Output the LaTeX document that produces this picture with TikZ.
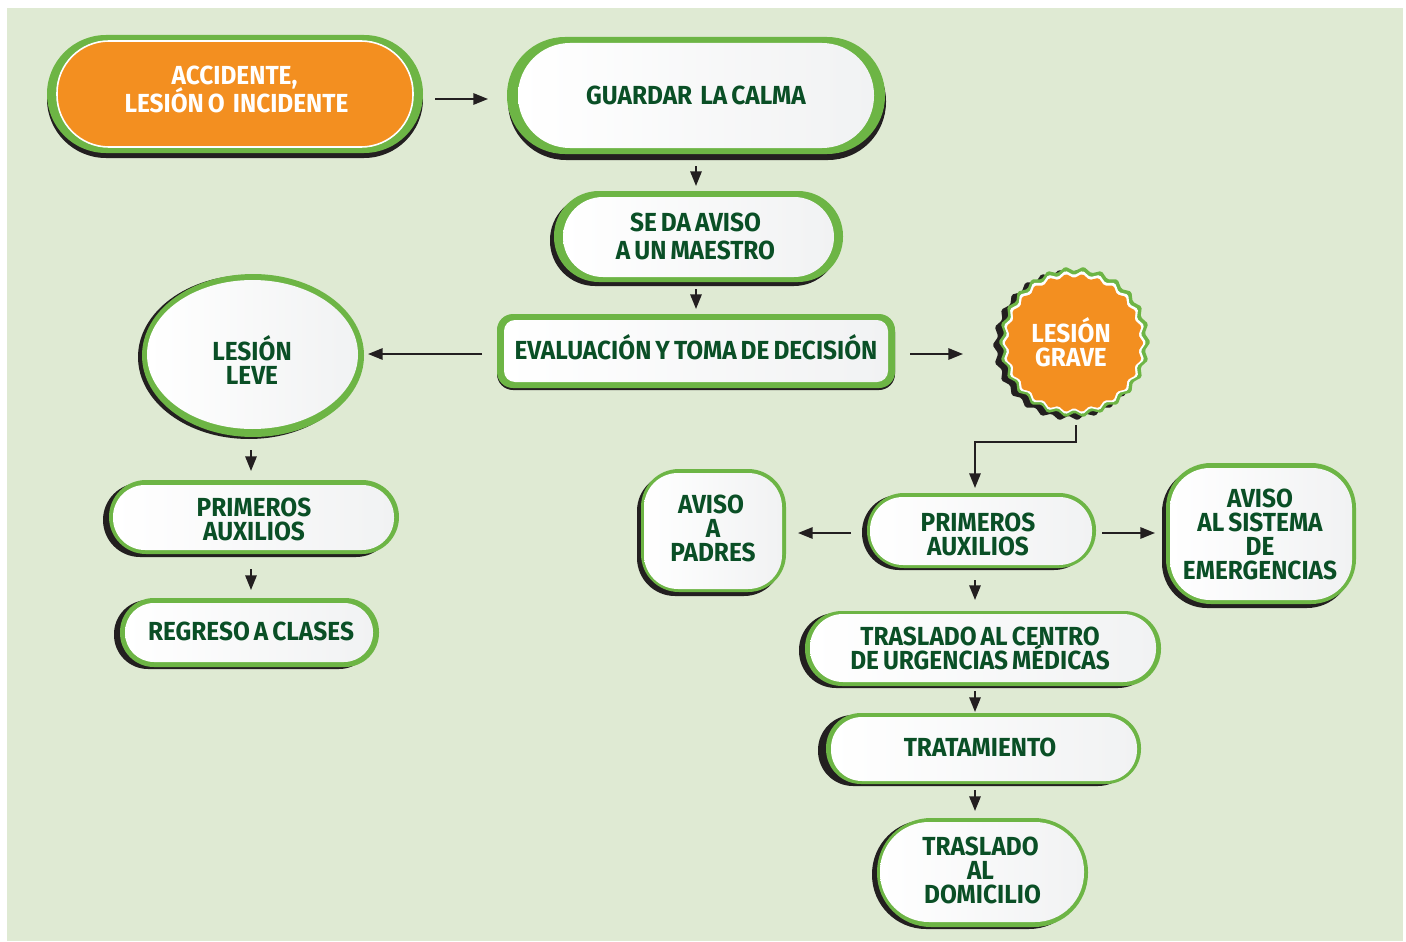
\documentclass[tikz,border=0pt]{standalone}
\usepackage{fontspec}
\setmainfont[FakeStretch=0.935,WordSpace=0.7,BoldFont={Fira Sans Bold}]{Fira Sans}
\usetikzlibrary{arrows.meta,shapes.geometric,calc}
\AtBeginDocument{\setlength{\lineskiplimit}{-50pt}}
\definecolor{bgc}{HTML}{DFEAD3}
\definecolor{grn}{HTML}{6DB545}
\definecolor{orng}{HTML}{F38F20}
\definecolor{inkc}{HTML}{231F20}
\definecolor{txtc}{HTML}{0A4F26}
\definecolor{shdr}{HTML}{F1F2F3}
\tikzset{
  arr/.style={draw=inkc,line width=1.5pt,-{Triangle[length=11pt,width=8.5pt]}},
  whitebox/.style={shape=rectangle,inner sep=0pt,outer sep=0pt,left color=white,right color=shdr},
  orangebox/.style={shape=rectangle,inner sep=0pt,outer sep=0pt,fill=orng,draw=white,line width=1.2pt},
  lbl/.style={inner sep=0pt,outer sep=0pt,align=center,text=txtc,font=\fontsize{19.6}{18}\selectfont\bfseries},
  lblwide/.style={lbl,font=\fontsize{19.6}{21}\selectfont\bfseries},
  onorange/.style={text=white},
  burstpt/.style={shape=star,star points=26,star point ratio=1.075,shape border rotate=6.923,inner sep=0pt,outer sep=0pt,rounded corners=1.2pt},
}
\newcommand{\frameback}[7]{%
  \pgfmathsetmacro{\rrv}{#5*0.75}%
  \fill[inkc,rounded corners=\rrv pt,shift={(#6,#7)}] (#1,#2) rectangle (#3,#4);
  \fill[grn,rounded corners=\rrv pt] (#1,#2) rectangle (#3,#4);
}
\newcommand{\innerbox}[7]{%
  \pgfmathsetmacro{\rrv}{#6*0.75}%
  \pgfmathsetmacro{\wwv}{(#4-#2)*0.75}%
  \pgfmathsetmacro{\hhv}{(#5-#3)*0.75}%
  \node[#7,rounded corners=\rrv pt,minimum width=\wwv pt,minimum height=\hhv pt] (#1) at ({(#2+#4)/2},{(#3+#5)/2}) {};
}
\begin{document}
\begin{tikzpicture}[x=0.75pt,y=-0.75pt]
\useasboundingbox (0,0) rectangle (1406,942);
\fill[white] (0,0) rectangle (1406,942);
\fill[bgc] (7,8) rectangle (1403,941);

% top row
\frameback{47}{35}{423}{153}{59}{0}{5}
\innerbox{acc}{57}{41}{413}{147}{52}{orangebox}
\node[lblwide,onorange] (acctxt) at (236.5,89) {ACCIDENTE,\kern3pt\\LESIÓN O\ \ INCIDENTE};

\frameback{507}{37}{885}{154}{58}{1}{6}
\innerbox{calma}{518}{43}{874}{148}{52}{whitebox}
\node[lbl] (calmatxt) at (696,95) {GUARDAR\ \ LA CALMA};

\frameback{554}{191}{843}{282}{45}{-4}{4}
\innerbox{aviso}{563}{197}{834}{277}{40}{whitebox}
\node[lblwide] (avisotxt) at (695.5,236) {SE DA AVISO\\A UN MAESTRO};

\frameback{497}{314}{895}{388}{16}{0}{2}
\innerbox{eval}{504}{320}{888}{382}{11}{whitebox}
\node[lbl] (evaltxt) at (696,347) {EVALUACIÓN Y TOMA DE DECISIÓN};

% left column
\fill[inkc] (249,357) ellipse [x radius=111,y radius=82];
\fill[grn] (253,355.5) ellipse [x radius=111,y radius=81.5];
\node[whitebox,shape=ellipse,minimum width=158.25pt,minimum height=111.75pt] (leve) at (252.5,354.5) {};
\node[lbl] (levetxt) at (252,360) {LESIÓN\\LEVE};

\frameback{109}{480}{399}{554}{37}{-6}{3}
\innerbox{primL}{113}{485}{394}{550}{32}{whitebox}
\node[lbl] (primLtxt) at (254,519.5) {PRIMEROS\\AUXILIOS};

\frameback{120}{598}{379}{667}{34}{-6}{2}
\innerbox{regreso}{125}{603}{373}{662}{29}{whitebox}
\node[lbl] (regresotxt) at (251,631) {REGRESO A CLASES};

% burst
\node[burstpt,fill=inkc,minimum size=114pt] (burstS) at (1068.5,345) {};
\node[burstpt,fill=grn,minimum size=114pt] (burstG) at (1074.5,342) {};
\node[burstpt,fill=white,minimum size=108.5pt] (burstW) at (1074,342.5) {};
\node[burstpt,fill=orng,minimum size=104.5pt] (burst) at (1074,343) {};
\node[lbl,onorange] (bursttxt) at (1071,342) {LESIÓN\\GRAVE};

% right column
\frameback{641}{469}{786}{592}{38}{-4}{4}
\innerbox{padres}{644}{473}{782}{589}{34}{whitebox}
\node[lbl] (padrestxt) at (713,528.5) {AVISO\kern3pt\\A\\PADRES};

\frameback{867}{493}{1096}{568}{37}{-5}{2}
\innerbox{primR}{870}{497}{1092}{565}{33}{whitebox}
\node[lbl] (primRtxt) at (978,534) {PRIMEROS\\AUXILIOS};

\frameback{1166}{463}{1356}{604}{45}{-4}{4}
\innerbox{sistema}{1170}{468}{1352}{600}{40}{whitebox}
\node[lbl] (sistematxt) at (1260,534) {AVISO\\AL SISTEMA\\DE\\EMERGENCIAS};

\frameback{805}{611}{1161}{686}{37}{-6}{2}
\innerbox{centro}{810}{614}{1156}{682}{33}{whitebox}
\node[lbl] (centrotxt) at (980,648) {TRASLADO AL CENTRO\\DE URGENCIAS MÉDICAS};

\frameback{826}{713}{1141}{784}{35}{-8}{2}
\innerbox{trat}{831}{717}{1137}{781}{31}{whitebox}
\node[lbl] (trattxt) at (980,747) {TRATAMIENTO};

\frameback{877}{818}{1088}{927}{54}{-5}{2}
\innerbox{dom}{880}{822}{1084}{922}{49}{whitebox}
\node[lbl] (domtxt) at (980.5,870) {TRASLADO\\AL\\\kern3pt DOMICILIO};

% connectors
\draw[arr] ([shift={(22,5)}]acc.east) -- ([shift={(-30,3.5)}]calma.west);
\draw[arr] ([shift={(0,18)}]calma.south) -- ([shift={(-2.5,-11)}]aviso.north);
\draw[arr] ([shift={(-2.5,12)}]aviso.south) -- ([shift={(0,-11)}]eval.north);
\draw[arr] ([shift={(-22,3)}]eval.west) -- ([shift={(10,-.5)}]leve.east);
\draw[arr] ([shift={(22,3)}]eval.east) -- ([shift={(-111,11)}]burst.center);
\draw[arr] ([shift={(-1.5,21)}]leve.south) -- ([shift={(-2.5,-14)}]primL.north);
\draw[arr] ([shift={(-2.5,19)}]primL.south) -- ([shift={(2,-13)}]regreso.north);
\draw[arr] ([shift={(2,82)}]burst.center) -- ++(0,17) -| ([shift={(-6,-9)}]primR.north);
\draw[arr] ([shift={(-19,2)}]primR.west) -- ([shift={(16,2)}]padres.east);
\draw[arr] ([shift={(10,2)}]primR.east) -- ([shift={(-15,-1)}]sistema.west);
\draw[arr] ([shift={(-6,15)}]primR.south) -- ([shift={(-8,-14)}]centro.north);
\draw[arr] ([shift={(-8,9)}]centro.south) -- ([shift={(-9,-5)}]trat.north);
\draw[arr] ([shift={(-9,9)}]trat.south) -- ([shift={(-7,-11)}]dom.north);
\end{tikzpicture}
\end{document}
